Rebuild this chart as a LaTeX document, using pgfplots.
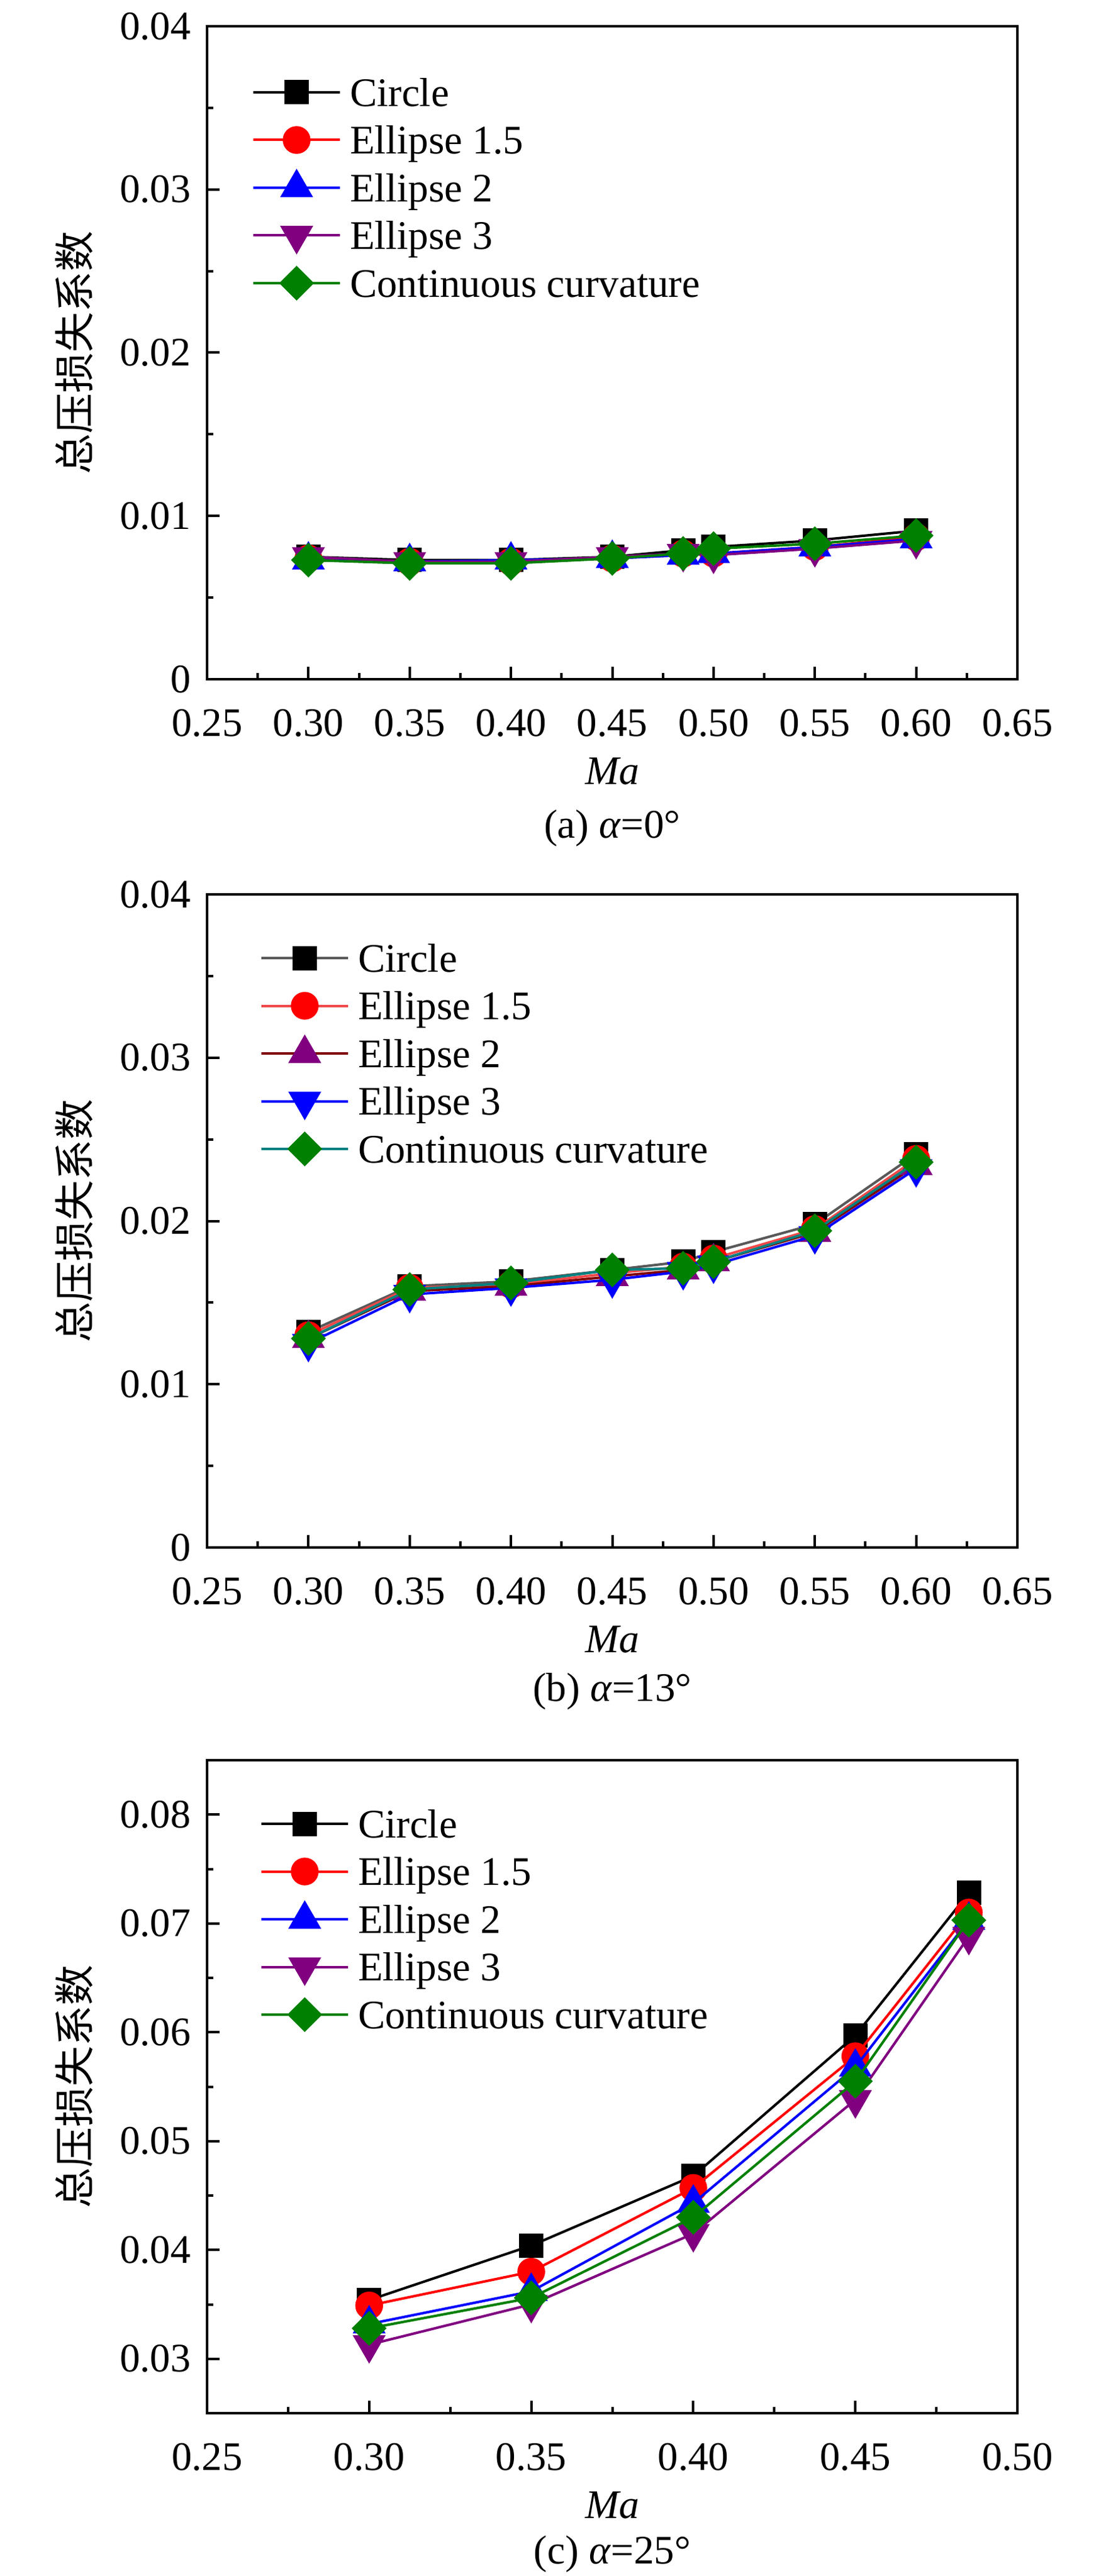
\documentclass[border=0pt]{standalone}
\usepackage{fontspec}
\setmainfont{Liberation Serif}
\newfontfamily\cjk{Noto Sans CJK SC}
\usepackage{pgfplots}
\pgfplotsset{compat=1.18}
\definecolor{cpurple}{HTML}{800080}
\definecolor{cgreen}{HTML}{008000}
\definecolor{cgray}{HTML}{595959}
\definecolor{clred}{HTML}{F04848}
\definecolor{cmaroon}{HTML}{800000}
\definecolor{cteal}{HTML}{008080}
\newcommand{\fs}{\fontsize{13pt}{15pt}\selectfont}
\pgfplotsset{
  panel/.style={
    scale only axis, width=259.8pt, height=209.4pt, anchor=north west,
    clip mode=individual,
    axis line style={line width=0.8pt},
    tick align=inside, xtick pos=bottom, ytick pos=left,
    major tick length=4pt, minor tick length=2pt,
    major tick style={line width=0.8pt, black},
    minor tick style={line width=0.8pt, black},
    minor x tick num=1, minor y tick num=1,
    scaled ticks=false,
    tick label style={font=\fs},
    xticklabel style={yshift=-6.1pt},
    yticklabel style={xshift=-1.7pt},
    label style={font=\fs},
    xlabel={\textit{Ma}},
    xlabel style={at={(axis description cs:0.5,0)}, anchor=center, yshift=-29.5pt},
    ylabel={\cjk 总压损失系数},
    ylabel style={at={(axis description cs:-0.164,0.5)}, anchor=center},
    legend cell align=left,
    legend style={draw=none, fill=none, inner sep=0pt, outer sep=0pt,
      at={(axis description cs:0,1)}, anchor=north west,
      font=\fs, row sep=6.46pt, column sep=2.8pt,
      nodes={inner sep=0pt, text height=8.84pt, text depth=0pt}},
    legend image code/.code={
      \path[draw=none, fill=none] (0pt,-4.42pt) rectangle (27.8pt,4.42pt);
      \draw[##1, mark=none] (0pt,0pt) -- (27.8pt,0pt);
      \begin{scope}[overlay]
        \draw[##1, only marks] plot coordinates {(13.9pt,0pt)};
      \end{scope}
    },
  },
  sCircle/.style={color=black, line width=0.8pt, mark=square*, mark size=3.75pt,
    mark options={solid, line width=0.3pt, fill=black, draw=black}},
  sEa/.style={color=red, line width=0.8pt, mark=*, mark size=4.3pt,
    mark options={solid, line width=0.3pt, fill=red, draw=red}},
  sEb/.style={color=blue, line width=0.8pt, mark=triangle*, mark size=5.8pt,
    mark options={solid, line width=0.3pt, fill=blue, draw=blue}},
  sEc/.style={color=cpurple, line width=0.8pt, mark=triangle*, mark size=5.8pt,
    mark options={solid, line width=0.3pt, fill=cpurple, draw=cpurple, rotate=180}},
  sCC/.style={color=cgreen, line width=0.8pt, mark=square*, mark size=3.8pt,
    mark options={solid, line width=0.3pt, fill=cgreen, draw=cgreen, rotate=45}},
}
\begin{document}
\begin{tikzpicture}
\useasboundingbox (0,0) rectangle (354.4pt,-826pt);
% ---------------- (a) ----------------
\begin{axis}[panel, at={(66.4pt,-8.4pt)},
  xmin=0.25, xmax=0.65, ymin=0, ymax=0.04,
  xtick={0.25,0.30,0.35,0.40,0.45,0.50,0.55,0.60,0.65},
  xticklabels={0.25,0.30,0.35,0.40,0.45,0.50,0.55,0.60,0.65},
  ytick={0,0.01,0.02,0.03,0.04},
  yticklabels={0,0.01,0.02,0.03,0.04},
  legend style={xshift=14.4pt, yshift=-16.78pt}]
\addplot[sCircle] coordinates {(0.30,0.0075) (0.35,0.0073) (0.40,0.0073) (0.45,0.0075) (0.485,0.0079) (0.50,0.0081) (0.55,0.0085) (0.60,0.0091)};
\addplot[sEa] coordinates {(0.30,0.0074) (0.35,0.0072) (0.40,0.0072) (0.45,0.0074) (0.485,0.0077) (0.50,0.0077) (0.55,0.0081) (0.60,0.0087)};
\addplot[sEb] coordinates {(0.30,0.0073) (0.35,0.0072) (0.40,0.0073) (0.45,0.0074) (0.485,0.0076) (0.50,0.0077) (0.55,0.0081) (0.60,0.0086)};
\addplot[sEc] coordinates {(0.30,0.0075) (0.35,0.0072) (0.40,0.0072) (0.45,0.0075) (0.485,0.0077) (0.50,0.0076) (0.55,0.0080) (0.60,0.0085)};
\addplot[sCC] coordinates {(0.30,0.0073) (0.35,0.0071) (0.40,0.0071) (0.45,0.0074) (0.485,0.0077) (0.50,0.0080) (0.55,0.0083) (0.60,0.0088)};
\legend{Circle,Ellipse 1.5,Ellipse 2,Ellipse 3,Continuous curvature}
\node[anchor=base, font=\fs] at ([yshift=-50.8pt]axis description cs:0.5,0) {(a) \textit{α}=0°};
\end{axis}
% ---------------- (b) ----------------
\begin{axis}[panel, at={(66.4pt,-286.8pt)},
  xmin=0.25, xmax=0.65, ymin=0, ymax=0.04,
  xtick={0.25,0.30,0.35,0.40,0.45,0.50,0.55,0.60,0.65},
  xticklabels={0.25,0.30,0.35,0.40,0.45,0.50,0.55,0.60,0.65},
  ytick={0,0.01,0.02,0.03,0.04},
  yticklabels={0,0.01,0.02,0.03,0.04},
  legend style={xshift=17pt, yshift=-15.98pt}]
\addplot[sCircle, color=cgray, mark options={solid, line width=0.3pt, fill=black, draw=black}] coordinates {(0.30,0.0132) (0.35,0.0160) (0.40,0.0163) (0.45,0.0170) (0.485,0.0175) (0.50,0.0181) (0.55,0.0198) (0.60,0.0241)};
\addplot[sEa, color=clred, mark options={solid, line width=0.3pt, fill=red, draw=red}] coordinates {(0.30,0.0130) (0.35,0.0159) (0.40,0.0161) (0.45,0.0168) (0.485,0.0172) (0.50,0.0177) (0.55,0.0195) (0.60,0.0238)};
\addplot[sEb, color=cmaroon, mark options={solid, line width=0.3pt, fill=cpurple, draw=cpurple}] coordinates {(0.30,0.0128) (0.35,0.0157) (0.40,0.0160) (0.45,0.0166) (0.485,0.0170) (0.50,0.0175) (0.55,0.0193) (0.60,0.0234)};
\addplot[sEc, color=blue, mark options={solid, line width=0.3pt, fill=blue, draw=blue, rotate=180}] coordinates {(0.30,0.0125) (0.35,0.0155) (0.40,0.0159) (0.45,0.0164) (0.485,0.0169) (0.50,0.0173) (0.55,0.0191) (0.60,0.0232)};
\addplot[sCC, color=cteal, mark options={solid, line width=0.3pt, fill=cgreen, draw=cgreen, rotate=45}] coordinates {(0.30,0.0128) (0.35,0.0158) (0.40,0.0162) (0.45,0.0170) (0.485,0.0171) (0.50,0.0175) (0.55,0.0194) (0.60,0.0236)};
\legend{Circle,Ellipse 1.5,Ellipse 2,Ellipse 3,Continuous curvature}
\node[anchor=base, font=\fs] at ([yshift=-49.2pt]axis description cs:0.5,0) {(b) \textit{α}=13°};
\end{axis}
% ---------------- (c) ----------------
\begin{axis}[panel, at={(66.4pt,-564.4pt)},
  xmin=0.25, xmax=0.50, ymin=0.025, ymax=0.085,
  xtick={0.25,0.30,0.35,0.40,0.45,0.50},
  xticklabels={0.25,0.30,0.35,0.40,0.45,0.50},
  ytick={0.03,0.04,0.05,0.06,0.07,0.08},
  yticklabels={0.03,0.04,0.05,0.06,0.07,0.08},
  legend style={xshift=17pt, yshift=-15.98pt}]
\addplot[sCircle] coordinates {(0.30,0.0354) (0.35,0.0404) (0.40,0.0468) (0.45,0.0597) (0.485,0.0728)};
\addplot[sEa] coordinates {(0.30,0.0349) (0.35,0.0380) (0.40,0.0457) (0.45,0.0578) (0.485,0.0710)};
\addplot[sEb] coordinates {(0.30,0.0332) (0.35,0.0362) (0.40,0.0443) (0.45,0.0568) (0.485,0.0703)};
\addplot[sEc] coordinates {(0.30,0.0313) (0.35,0.0350) (0.40,0.0415) (0.45,0.0538) (0.485,0.0688)};
\addplot[sCC] coordinates {(0.30,0.0328) (0.35,0.0356) (0.40,0.0430) (0.45,0.0555) (0.485,0.0703)};
\legend{Circle,Ellipse 1.5,Ellipse 2,Ellipse 3,Continuous curvature}
\node[anchor=base, font=\fs] at ([yshift=-48.2pt]axis description cs:0.5,0) {(c) \textit{α}=25°};
\end{axis}
\end{tikzpicture}
\end{document}
